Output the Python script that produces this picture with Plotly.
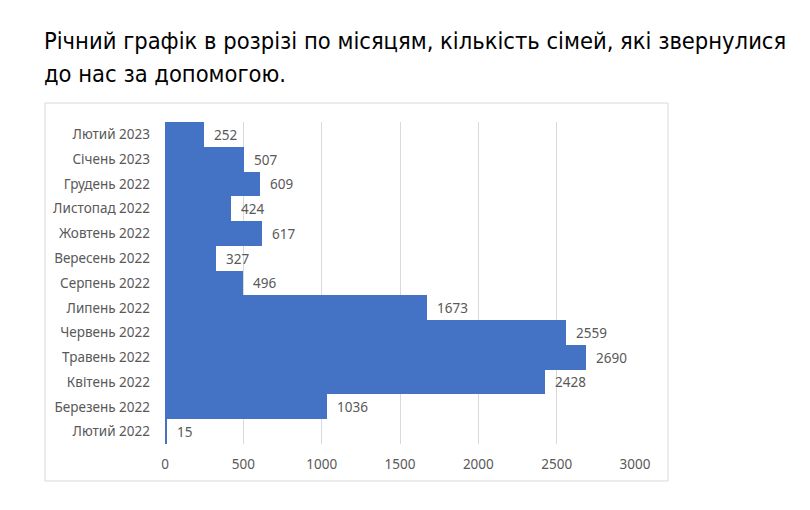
import plotly.graph_objects as go

months = [
    "Лютий 2022", "Березень 2022", "Квітень 2022", "Травень 2022",
    "Червень 2022", "Липень 2022", "Серпень 2022", "Вересень 2022",
    "Жовтень 2022", "Листопад 2022", "Грудень 2022", "Січень 2023",
    "Лютий 2023",
]
families = [15, 1036, 2428, 2690, 2559, 1673, 496, 327, 617, 424, 609, 507, 252]
x_ticks = [0, 500, 1000, 1500, 2000, 2500, 3000]

title_lines = [
    "Річний графік в розрізі по місяцям, кількість сімей, які звернулися",
    "до нас за допомогою.",
]

font = "Noto Sans, sans-serif"
title_font = "DejaVu Sans Condensed, Noto Sans, sans-serif"
grey = "#595959"

fig = go.Figure()
fig.add_trace(go.Bar(
    y=months, x=families, orientation="h",
    marker=dict(color="#4472C4", line=dict(width=0)),
    texttemplate="  %{x}", textposition="outside", cliponaxis=False,
    textfont=dict(family=font, size=13.5, color=grey),
))

# page has an 8px body margin, so the figure starts at (8, 8)
OFF = 8
W, H = 810 - OFF, 510 - OFF
# plot area in screen pixels: x 165..635, y 122..444
L, T = 165 - OFF, 122 - OFF
R, B = W - (635 - OFF), H - (444 - OFF)
pw, ph = W - L - R, H - T - B


def px(x):
    return (x - OFF - L) / pw


def py(y):
    return (H - B - (y - OFF)) / ph


# outer chart border
fig.add_shape(type="rect", xref="paper", yref="paper",
              x0=px(45), x1=px(668), y0=py(481), y1=py(103),
              line=dict(color="#D9D9D9", width=1), layer="below")

for i, line in enumerate(title_lines):
    fig.add_annotation(text=line, xref="paper", yref="paper",
                       x=px(42), y=py(41 + 33 * i), xanchor="left", yanchor="middle",
                       showarrow=False,
                       font=dict(family=title_font, size=23.5, color="black"))

fig.update_layout(
    width=W, height=H,
    margin=dict(l=L, r=R, t=T, b=B),
    paper_bgcolor="white", plot_bgcolor="white",
    bargap=0, showlegend=False,
    font=dict(family=font, color=grey),
)
fig.update_xaxes(range=[0, 3000], tickvals=x_ticks, showgrid=True,
                 gridcolor="#D9D9D9", zeroline=False, showline=False,
                 tickfont=dict(family=font, size=13.5, color=grey),
                 ticklabelstandoff=10)
fig.update_yaxes(showgrid=False, zeroline=False, showline=False,
                 tickfont=dict(family=font, size=13.5, color=grey),
                 ticklabelstandoff=14)

fig.write_html("out.html")
